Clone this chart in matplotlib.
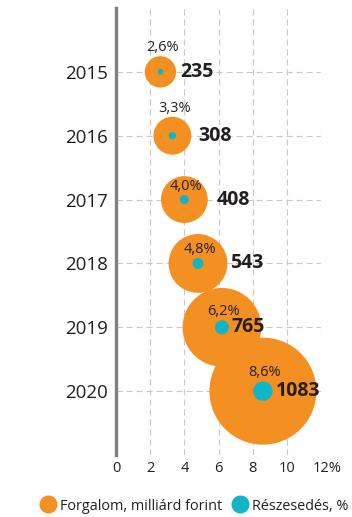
import matplotlib
matplotlib.use("Agg")
import matplotlib.pyplot as plt
import matplotlib.transforms as mtransforms
from matplotlib.lines import Line2D

plt.rcParams['font.family'] = ['Open Sans', 'DejaVu Sans']

# ---- data ----
years = [2015, 2016, 2017, 2018, 2019, 2020]
share = [2.6, 3.3, 4.0, 4.8, 6.2, 8.6]
revenue = [235, 308, 408, 543, 765, 1083]
share_labels = ['2,6%', '3,3%', '4,0%', '4,8%', '6,2%', '8,6%']
revenue_labels = ['235', '308', '408', '543', '765', '1083']
xticks = [0, 2, 4, 6, 8, 10, 12]
xtick_labels = ['0', '2', '4', '6', '8', '10', '12%']
legend_labels = ['Forgalom, milliárd forint', 'Részesedés, %']

# ---- style ----
ORANGE = '#F39021'
TEAL = '#12B5C6'
TEXT = '#231F20'
PT = 0.72  # points per pixel at 100 dpi
value_dx_px = [20, 26, 32, 32, 10, 13]

fig = plt.figure(figsize=(3.52, 5.17), dpi=100)
ax = fig.add_axes([116 / 352, 1 - 455 / 517, (321 - 116) / 352, (455 - 8) / 517])

ax.set_xlim(0, 12)
ax.set_ylim(2021, 2014)

r_orange = [5.2 + 0.0446 * v for v in revenue]
r_teal = [1.13 * s for s in share]

ax.scatter(share, years, s=[(2 * r * PT) ** 2 for r in r_orange],
           color=ORANGE, linewidths=0, zorder=3)
ax.scatter(share, years, s=[(2 * r * PT) ** 2 for r in r_teal],
           color=TEAL, linewidths=0, zorder=4)

for i in range(len(years)):
    off = (r_orange[i] + 8.5) if r_orange[i] < 22 else (r_teal[i] + 9)
    ax.annotate(share_labels[i], xy=(share[i], years[i]),
                xytext=(2 * PT, off * PT), textcoords='offset points',
                ha='center', va='center', fontsize=10.5, color=TEXT, zorder=5)
    ax.annotate(revenue_labels[i], xy=(share[i], years[i]),
                xytext=(value_dx_px[i] * PT, 0), textcoords='offset points',
                ha='left', va='center', fontsize=14, fontweight='bold',
                color=TEXT, zorder=5)

ax.set_xticks(xticks)
ax.set_xticklabels(xtick_labels, fontsize=10.5, color=TEXT)
ax.set_yticks(years)
ax.set_yticklabels([str(y) for y in years], fontsize=13.5, color=TEXT)
ax.tick_params(axis='both', length=0)
ax.tick_params(axis='y', pad=6)
ax.tick_params(axis='x', pad=4)

# shift "12%" so that the number sits under its tick and % hangs right
last = ax.get_xticklabels()[-1]
last.set_transform(last.get_transform() +
                   mtransforms.ScaledTranslation(6 / 100, 0, fig.dpi_scale_trans))

ax.set_axisbelow(True)
ax.grid(True, color='#c8c8c8', linewidth=0.8, linestyle=(0, (5.5, 3.5)))

for sp in ['top', 'right', 'bottom']:
    ax.spines[sp].set_visible(False)
ax.spines['left'].set_color('#7f7f7f')
ax.spines['left'].set_linewidth(2.4)

handles = [
    Line2D([], [], marker='o', linestyle='none', markersize=13,
           markerfacecolor=ORANGE, markeredgewidth=0),
    Line2D([], [], marker='o', linestyle='none', markersize=13,
           markerfacecolor=TEAL, markeredgewidth=0),
]
fig.legend(handles, legend_labels, loc='center left', ncol=2, frameon=False,
           bbox_to_anchor=(39 / 352, 1 - 506 / 517), fontsize=10.4,
           handletextpad=0.25, columnspacing=0.6, handlelength=1.2,
           labelcolor=TEXT, borderaxespad=0, borderpad=0)

fig.savefig('out.png', dpi=100)
